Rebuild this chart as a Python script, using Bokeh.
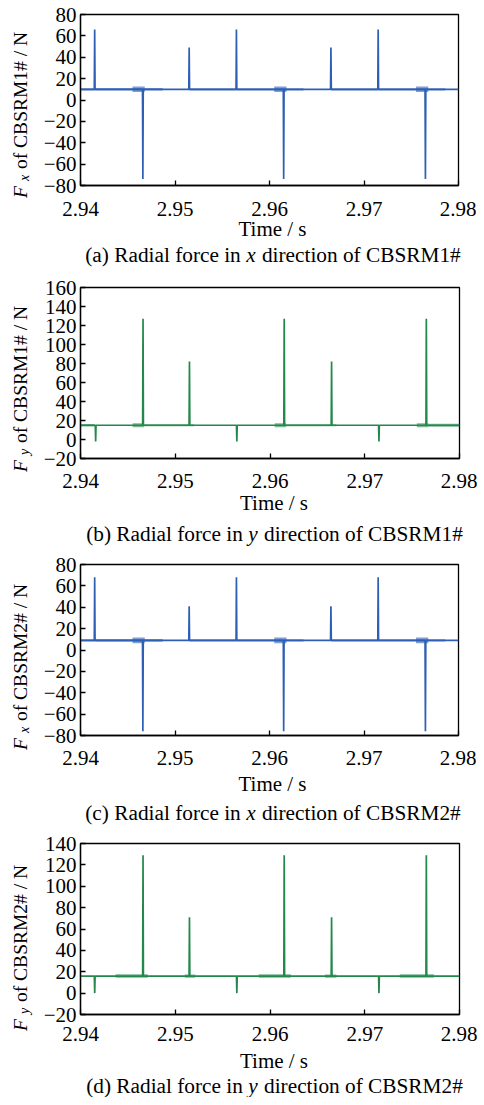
import math
from bokeh.plotting import figure
from bokeh.models import Range1d, FixedTicker, CustomJSTickFormatter, Label, ColumnDataSource
from bokeh.layouts import column, row
from bokeh.embed import file_html
from bokeh.resources import INLINE

FONT = "Liberation Serif"
BLUE = "#2d5fb5"
GREEN = "#23884a"

# ---------------- data ----------------
time_ticks = [2.94, 2.95, 2.96, 2.97, 2.98]
t_start, t_end = 2.94, 2.98

# (a) Fx of CBSRM1#
fx1_base = 10
fx1_up_t = [2.9415, 2.9515, 2.9565, 2.9665, 2.9715]
fx1_up_v = [66, 49, 66, 49, 66]
fx1_dn_t = [2.9466, 2.9615, 2.9765]
fx1_dn_v = [-74, -74, -74]
fx1_noise_start = [2.9400, 2.9415, 2.9455, 2.9515, 2.9605, 2.9665, 2.9755]
fx1_noise_end = [2.9415, 2.9487, 2.9468, 2.9636, 2.9618, 2.9786, 2.9768]
fx1_noise_amp = [1.0, 1.2, 2.6, 1.0, 2.6, 1.0, 2.6]
fx1_ticks = [-80, -60, -40, -20, 0, 20, 40, 60, 80]

# (b) Fy of CBSRM1#
fy1_base = 15
fy1_up_t = [2.9466, 2.9515, 2.9615, 2.9665, 2.9765]
fy1_up_v = [127, 82, 127, 82, 127]
fy1_dn_t = [2.9416, 2.9565, 2.9715]
fy1_dn_v = [-2, -2, -2]
fy1_noise_start = [2.9400, 2.9455, 2.9467, 2.9605, 2.9617, 2.9755, 2.9767]
fy1_noise_end = [2.9415, 2.9467, 2.9520, 2.9617, 2.9670, 2.9767, 2.9800]
fy1_noise_amp = [1.2, 2.2, 1.0, 2.2, 1.0, 2.2, 1.5]
fy1_ticks = [-20, 0, 20, 40, 60, 80, 100, 120, 140, 160]

# (c) Fx of CBSRM2#
fx2_base = 9
fx2_up_t = [2.9415, 2.9515, 2.9565, 2.9665, 2.9715]
fx2_up_v = [68, 41, 68, 41, 68]
fx2_dn_t = [2.9466, 2.9615, 2.9765]
fx2_dn_v = [-76, -76, -76]
fx2_noise_start = [2.9400, 2.9415, 2.9455, 2.9515, 2.9605, 2.9665, 2.9755]
fx2_noise_end = [2.9415, 2.9487, 2.9468, 2.9636, 2.9618, 2.9786, 2.9768]
fx2_noise_amp = [1.1, 1.3, 2.8, 1.1, 2.8, 1.1, 2.8]
fx2_ticks = [-80, -60, -40, -20, 0, 20, 40, 60, 80]

# (d) Fy of CBSRM2#
fy2_base = 16
fy2_up_t = [2.9466, 2.9515, 2.9615, 2.9665, 2.9765]
fy2_up_v = [129, 71, 129, 71, 129]
fy2_dn_t = [2.9415, 2.9565, 2.9715]
fy2_dn_v = [0, 0, 0]
fy2_noise_start = [2.9437, 2.9510, 2.9588, 2.9658, 2.9737]
fy2_noise_end = [2.9471, 2.9521, 2.9622, 2.9670, 2.9773]
fy2_noise_amp = [1.7, 1.5, 1.7, 1.5, 1.7]
fy2_ticks = [-20, 0, 20, 40, 60, 80, 100, 120, 140]

x_axis_title = "Time / s"
captions = [
    ("(a) Radial force in", "x", "direction of CBSRM1#"),
    ("(b) Radial force in", "y", "direction of CBSRM1#"),
    ("(c) Radial force in", "x", "direction of CBSRM2#"),
    ("(d) Radial force in", "y", "direction of CBSRM2#"),
]
ylabels = [("F", "x", "of CBSRM1# / N"), ("F", "y", "of CBSRM1# / N"),
           ("F", "x", "of CBSRM2# / N"), ("F", "y", "of CBSRM2# / N")]

# ---------------- helpers ----------------
TIMES = {" ": 250, "(": 333, ")": 333, "a": 444, "b": 500, "c": 444, "d": 500, "e": 444,
         "f": 333, "i": 278, "l": 278, "n": 500, "o": 500, "r": 333, "t": 278, "R": 667,
         "C": 667, "B": 667, "S": 556, "M": 889, "1": 500, "2": 500, "#": 500}
TIMES_I = {"x": 444, "y": 444}


def text_w(s, size, table=TIMES):
    return sum(table.get(ch, 500) for ch in s) * size / 1000.0


def spike_series(base, up_t, up_v, dn_t, dn_v, w=0.00004):
    events = sorted(list(zip(up_t, up_v)) + list(zip(dn_t, dn_v)))
    xs, ys = [t_start], [base]
    for t, v in events:
        xs += [t - w, t, t + w]
        ys += [base, v, base]
    xs.append(t_end)
    ys.append(base)
    return xs, ys


def blank_fig(w, h, transparent=False):
    f = figure(frame_width=w, frame_height=h, x_range=Range1d(0, w), y_range=Range1d(0, h),
               output_backend="svg", toolbar_location=None, title_location=None,
               x_axis_location=None, y_axis_location=None,
               min_border=0, min_border_left=0, min_border_right=0,
               min_border_top=0, min_border_bottom=0)
    f.xgrid.visible = False
    f.ygrid.visible = False
    f.outline_line_color = None
    f.background_fill_color = "white"
    f.border_fill_color = "white"
    if transparent:
        f.background_fill_alpha = 0
        f.border_fill_alpha = 0
    return f


FRAME_H = 171
LAB_W = 40
BOTTOM = 40          # space under each frame kept by the main figure (tick labels)
OVERLAP = 12         # caption strip slides up over the blank lower part of it
CAP_SIZE = 21.3
SPACE = 250 * CAP_SIZE / 1000.0
SHIFT = 5.5          # text is drawn this far "below" its alphabetic anchor


def make_panel(k, base, up_t, up_v, dn_t, dn_v, ns, ne, na, ticks, color,
               top, frame_left, frame_w, tick_standoff, time_drop, cap_drop, next_top,
               frame_bottom):
    ymin, ymax = ticks[0], ticks[-1]
    p = figure(frame_width=frame_w, frame_height=FRAME_H,
               x_range=Range1d(t_start, t_end), y_range=Range1d(ymin, ymax),
               output_backend="svg", toolbar_location=None, title_location=None,
               min_border_left=frame_left - LAB_W, min_border_right=18,
               min_border_top=top, min_border_bottom=BOTTOM)
    p.xgrid.visible = False
    p.ygrid.visible = False
    p.outline_line_color = "black"
    p.outline_line_width = 1.3
    p.outline_line_alpha = 1.0
    p.background_fill_color = "white"
    p.border_fill_color = "white"

    src_n = ColumnDataSource(dict(left=ns, right=ne,
                                  bottom=[base - a for a in na],
                                  top=[base + a for a in na]))
    p.quad(left="left", right="right", bottom="bottom", top="top", source=src_n,
           fill_color=color, fill_alpha=0.6, line_color=None)
    xs, ys = spike_series(base, up_t, up_v, dn_t, dn_v)
    p.line(xs, ys, line_color=color, line_width=1.7)

    for ax in (p.xaxis[0], p.yaxis[0]):
        ax.major_tick_in = 5
        ax.major_tick_out = 0
        ax.minor_tick_line_color = None
        ax.axis_line_width = 1.3
        ax.axis_line_color = "black"
        ax.major_tick_line_width = 1.3
        ax.major_tick_line_color = "black"
        ax.major_label_text_font = FONT
        ax.major_label_text_font_size = "21px"
        ax.major_label_text_color = "black"

    p.xaxis.ticker = FixedTicker(ticks=time_ticks)
    p.xaxis.formatter = CustomJSTickFormatter(code="return tick.toFixed(2);")
    p.xaxis.major_label_standoff = tick_standoff
    p.xaxis.axis_label = None

    p.yaxis.ticker = FixedTicker(ticks=ticks)
    p.yaxis.formatter = CustomJSTickFormatter(
        code="return tick < 0 ? '\\u2212' + Math.abs(tick) : String(tick);")
    p.yaxis.major_label_standoff = 4
    p.yaxis.axis_label = None

    # left strip with the rotated y label (pixel coordinates)
    h_main = top + FRAME_H + BOTTOM
    lab = blank_fig(LAB_W, h_main)
    yc = BOTTOM + FRAME_H / 2.0
    F, sub, rest = ylabels[k]
    bx = 25 - SHIFT
    for txt, xx, yy, size, style in ((F, bx, yc - 84, "19.5px", "italic"),
                                     (sub, bx + 4.5, yc - 67, "14px", "italic"),
                                     (rest, bx, yc - 55, "19.5px", "normal")):
        lab.add_layout(Label(x=xx, y=yy, text=txt, angle=math.pi / 2,
                             text_align="left", text_baseline="alphabetic",
                             text_font=FONT, text_font_size=size,
                             text_font_style=style, text_color="black"))

    # transparent strip below with axis title and caption (pixel coordinates)
    cap_top = BOTTOM - OVERLAP                 # below the frame
    cap_h = next_top - frame_bottom - cap_top
    cap_w = frame_left + frame_w + 18
    cap = blank_fig(cap_w, cap_h, transparent=True)
    cap.margin = (-OVERLAP, 0, 0, 0)
    fc = frame_left + frame_w / 2.0
    cap.add_layout(Label(x=fc + 4, y=cap_h - (time_drop - cap_top) + SHIFT, text=x_axis_title,
                         text_align="center", text_baseline="alphabetic",
                         text_font=FONT, text_font_size="21px", text_color="black"))
    c1, c2, c3 = captions[k]
    w1 = text_w(c1, CAP_SIZE) + SPACE
    w2 = text_w(c2, CAP_SIZE, TIMES_I) + SPACE
    w3 = text_w(c3, CAP_SIZE)
    x0 = fc + 4 - (w1 + w2 + w3) / 2.0
    ycap = cap_h - (cap_drop - cap_top) + SHIFT
    for txt, xx, style in ((c1, x0, "normal"), (c2, x0 + w1, "italic"),
                           (c3, x0 + w1 + w2 + 1, "normal")):
        cap.add_layout(Label(x=xx, y=ycap, text=txt,
                             text_align="left", text_baseline="alphabetic",
                             text_font=FONT, text_font_size=f"{CAP_SIZE}px",
                             text_font_style=style, text_color="black"))
    return column(row(lab, p, spacing=0), cap, spacing=0)


# page positions of the frames: a 14-185, b 287-458, c 564-735, d 843-1014
pa = make_panel(0, fx1_base, fx1_up_t, fx1_up_v, fx1_dn_t, fx1_dn_v,
                fx1_noise_start, fx1_noise_end, fx1_noise_amp, fx1_ticks, BLUE,
                14, 79, 378, 16, 49, 75, 272, 185)
pb = make_panel(1, fy1_base, fy1_up_t, fy1_up_v, fy1_dn_t, fy1_dn_v,
                fy1_noise_start, fy1_noise_end, fy1_noise_amp, fy1_ticks, GREEN,
                15, 80, 379, 15, 50, 81, 548, 458)
pc = make_panel(2, fx2_base, fx2_up_t, fx2_up_v, fx2_dn_t, fx2_dn_v,
                fx2_noise_start, fx2_noise_end, fx2_noise_amp, fx2_ticks, BLUE,
                16, 79, 378, 15, 54, 83, 825, 735)
pd = make_panel(3, fy2_base, fy2_up_t, fy2_up_v, fy2_dn_t, fy2_dn_v,
                fy2_noise_start, fy2_noise_end, fy2_noise_amp, fy2_ticks, GREEN,
                18, 80, 379, 12, 52, 77, 1097, 1014)

layout = column(pa, pb, pc, pd, spacing=0)
open("out.html", "w").write(file_html(layout, INLINE))
